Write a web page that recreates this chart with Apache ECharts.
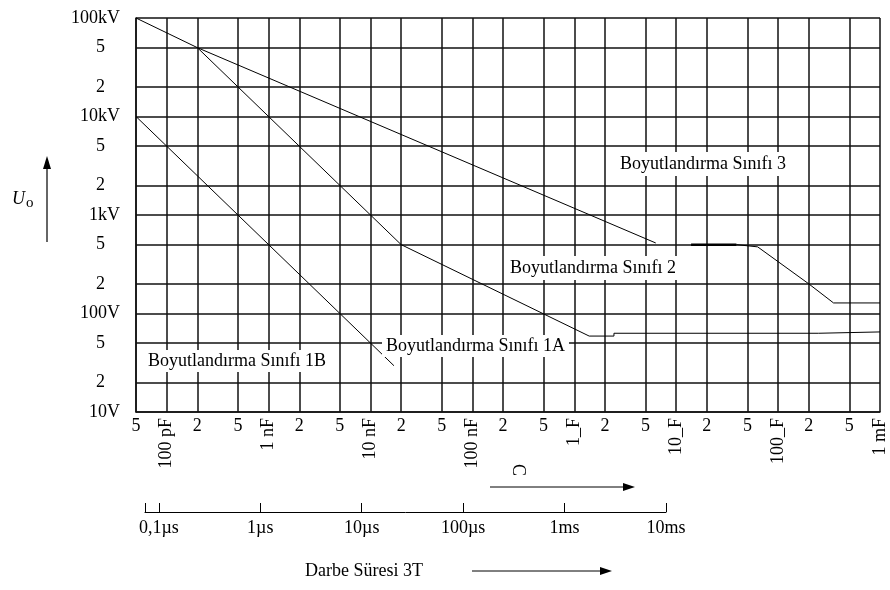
<!DOCTYPE html>
<html>
<head>
<meta charset="utf-8">
<script src="https://cdn.jsdelivr.net/npm/echarts@6/dist/echarts.min.js"></script>
<style>
  html, body { margin: 0; padding: 0; background: #fff; }
  #chart { width: 890px; height: 590px; }
</style>
</head>
<body>
<div id="chart"></div>
<script>
var lg = Math.log10;
var FONT = 'Liberation Serif';

// capacitance axis (farad)
var capGrid = [5e-11, 1e-10, 2e-10, 5e-10, 1e-9, 2e-9, 5e-9, 1e-8, 2e-8, 5e-8, 1e-7, 2e-7, 5e-7,
               1e-6, 2e-6, 5e-6, 1e-5, 2e-5, 5e-5, 1e-4, 2e-4, 5e-4, 1e-3];
var capDigitTicks = [5e-11, 2e-10, 5e-10, 2e-9, 5e-9, 2e-8, 5e-8, 2e-7, 5e-7, 2e-6, 5e-6, 2e-5, 5e-5, 2e-4, 5e-4];
var capDigitLabels = ['5', '2', '5', '2', '5', '2', '5', '2', '5', '2', '5', '2', '5', '2', '5'];
var capDecadeTicks = [1e-10, 1e-9, 1e-8, 1e-7, 1e-6, 1e-5, 1e-4, 1e-3];
var capDecadeLabels = ['100 pF', '1 nF', '10 nF', '100 nF', '1_F', '10_F', '100_F', '1 mF'];

// voltage axis (volt)
var voltTicks = [1e1, 2e1, 5e1, 1e2, 2e2, 5e2, 1e3, 2e3, 5e3, 1e4, 2e4, 5e4, 1e5];
var voltLabels = ['10V', '2', '5', '100V', '2', '5', '1kV', '2', '5', '10kV', '2', '5', '100kV'];

// pulse duration axis (second)
var timeStart = 7.3e-8;
var timeTicks = [1e-7, 1e-6, 1e-5, 1e-4, 1e-3, 1e-2];
var timeLabels = ['0,1µs', '1µs', '10µs', '100µs', '1ms', '10ms'];

// curves: C (F) and U (V)
var class3C = [5e-11, 2e-10, 6.3e-6];
var class3U = [1e5, 5e4, 520];
var class3FlatC = [1.4e-5, 3.9e-5];
var class3FlatU = [500, 500];
var class3TailC = [3.9e-5, 6.3e-5, 2e-4, 3.5e-4, 1e-3];
var class3TailU = [500, 475, 200, 128, 128];
var class2C = [2e-10, 2e-8, 1.4e-6, 2.45e-6, 2.45e-6, 2.5e-4, 2.5e-4, 1e-3];
var class2U = [5e4, 500, 59, 59, 63, 63, 65, 65];
var class1BC = [5e-11, 1.7e-8];
var class1BU = [1e4, 29.5];

function pts(cs, us) {
  return cs.map(function (c, i) { return [lg(c), lg(us[i])]; });
}
function pick(ticks, labels, wrap) {
  return function (v) {
    for (var i = 0; i < ticks.length; i++) {
      if (Math.abs(lg(ticks[i]) - v) < 1e-6) return wrap ? wrap(labels[i]) : labels[i];
    }
    return '';
  };
}
function curve(data, width) {
  return {
    type: 'line', data: data, symbol: 'none', silent: true,
    lineStyle: { color: '#000', width: width || 1 }
  };
}

var gridLine = { show: true, lineStyle: { color: '#111', width: 1.5 } };
var capMin = lg(capGrid[0]), capMax = lg(capGrid[capGrid.length - 1]);

var chart = echarts.init(document.getElementById('chart'));
var option = {
  backgroundColor: '#fff',
  animation: false,
  grid: [
    { left: 136, right: 10, top: 18, bottom: 178 },
    { left: 145, right: 224, top: 490, height: 22 }
  ],
  xAxis: [
    {
      type: 'value', gridIndex: 0, min: capMin, max: capMax, position: 'bottom',
      axisLine: { show: true, lineStyle: { color: '#111', width: 1.5 } },
      axisTick: { show: false, customValues: capGrid.map(lg) },
      splitLine: gridLine,
      axisLabel: {
        customValues: capDigitTicks.map(lg),
        formatter: pick(capDigitTicks, capDigitLabels),
        color: '#000', fontFamily: FONT, fontSize: 18, margin: 5
      }
    },
    {
      type: 'value', gridIndex: 0, min: capMin, max: capMax, position: 'bottom',
      axisLine: { show: false }, axisTick: { show: false }, splitLine: { show: false },
      axisLabel: {
        customValues: capDecadeTicks.map(lg),
        formatter: pick(capDecadeTicks, capDecadeLabels),
        rotate: 90, margin: 6, showMinLabel: true, showMaxLabel: true,
        color: '#000', fontFamily: FONT, fontSize: 18
      }
    },
    {
      type: 'value', gridIndex: 1, min: lg(timeStart), max: lg(timeTicks[timeTicks.length - 1]),
      axisLine: { show: true, lineStyle: { color: '#000', width: 1 } },
      axisTick: { show: true, inside: true, length: 9, customValues: [lg(timeStart)].concat(timeTicks.map(lg)),
                  lineStyle: { color: '#000', width: 1 } },
      splitLine: { show: false },
      axisLabel: {
        customValues: timeTicks.map(lg),
        formatter: pick(timeTicks, timeLabels),
        showMinLabel: true, showMaxLabel: true,
        color: '#000', fontFamily: FONT, fontSize: 18, margin: 7
      }
    }
  ],
  yAxis: [
    {
      type: 'value', gridIndex: 0, min: lg(voltTicks[0]), max: lg(voltTicks[voltTicks.length - 1]),
      axisLine: { show: true, lineStyle: { color: '#111', width: 1.5 } },
      axisTick: { show: false, customValues: voltTicks.map(lg) },
      splitLine: gridLine,
      axisLabel: {
        customValues: voltTicks.map(lg),
        formatter: pick(voltTicks, voltLabels, function (s) {
          return s.length === 1 ? '{d|' + s + '}' : s;
        }),
        showMinLabel: true, showMaxLabel: true,
        color: '#000', fontFamily: FONT, fontSize: 18, margin: 16,
        rich: { d: { fontFamily: FONT, fontSize: 18, color: '#000', padding: [0, 15, 0, 0] } }
      }
    },
    { type: 'value', gridIndex: 1, show: false, min: 0, max: 1 }
  ],
  series: [
    curve(pts(class3C, class3U)),
    curve(pts(class3FlatC, class3FlatU), 2.5),
    curve(pts(class3TailC, class3TailU)),
    curve(pts(class2C, class2U)),
    curve(pts(class1BC, class1BU))
  ],
  graphic: [
    { type: 'text', z: 100, style: { text: 'U', x: 12, y: 199, verticalAlign: 'middle', font: 'italic 18px ' + FONT, fill: '#000' } },
    { type: 'text', z: 100, style: { text: 'o', x: 26, y: 203, verticalAlign: 'middle', font: '15px ' + FONT, fill: '#000' } },
    { type: 'line', z: 100, shape: { x1: 47, y1: 242, x2: 47, y2: 166 }, style: { stroke: '#333', lineWidth: 1.5 } },
    { type: 'polygon', z: 100, shape: { points: [[47, 156], [43, 169], [51, 169]] }, style: { fill: '#000' } },

    { type: 'text', z: 100, style: { text: 'Boyutlandırma Sınıfı 3', x: 616, y: 164, verticalAlign: 'middle',
      font: '18px ' + FONT, fill: '#000', backgroundColor: '#fff', padding: [3, 4, 3, 4] } },
    { type: 'text', z: 100, style: { text: 'Boyutlandırma Sınıfı 2', x: 506, y: 268, verticalAlign: 'middle',
      font: '18px ' + FONT, fill: '#000', backgroundColor: '#fff', padding: [3, 4, 3, 4] } },
    { type: 'text', z: 100, style: { text: 'Boyutlandırma Sınıfı 1A', x: 382, y: 346, verticalAlign: 'middle',
      font: '18px ' + FONT, fill: '#000', backgroundColor: '#fff', padding: [2, 4, 2, 4] } },
    { type: 'text', z: 100, style: { text: 'Boyutlandırma Sınıfı 1B', x: 144, y: 361, verticalAlign: 'middle',
      font: '18px ' + FONT, fill: '#000', backgroundColor: '#fff', padding: [2, 4, 2, 4] } },

    { type: 'text', z: 100, rotation: -Math.PI / 2, x: 518, y: 470,
      style: { text: 'C', align: 'center', verticalAlign: 'middle', font: '18px ' + FONT, fill: '#000' } },
    { type: 'line', z: 100, shape: { x1: 490, y1: 487, x2: 624, y2: 487 }, style: { stroke: '#000', lineWidth: 1 } },
    { type: 'polygon', z: 100, shape: { points: [[635, 487], [623, 483], [623, 491]] }, style: { fill: '#000' } },

    { type: 'text', z: 100, style: { text: 'Darbe Süresi 3T', x: 305, y: 571, verticalAlign: 'middle',
      font: '18px ' + FONT, fill: '#000' } },
    { type: 'line', z: 100, shape: { x1: 472, y1: 571, x2: 601, y2: 571 }, style: { stroke: '#000', lineWidth: 1 } },
    { type: 'polygon', z: 100, shape: { points: [[612, 571], [600, 567], [600, 575]] }, style: { fill: '#000' } }
  ]
};
chart.setOption(option);
</script>
</body>
</html>
